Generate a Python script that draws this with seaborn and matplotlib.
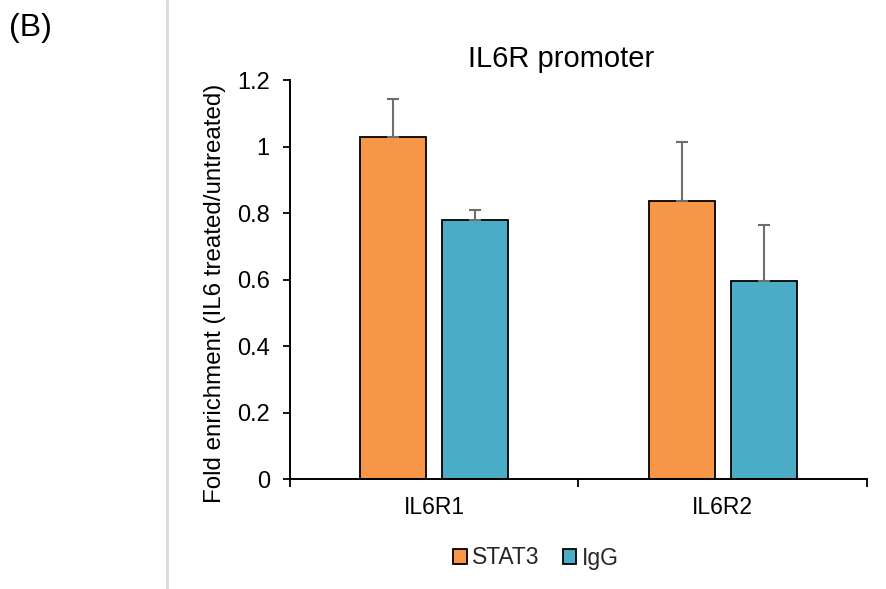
import matplotlib
matplotlib.use("Agg")
import matplotlib.pyplot as plt
from matplotlib.lines import Line2D
from matplotlib.ticker import FixedLocator, NullFormatter
import seaborn as sns
import pandas as pd

categories = ["IL6R1", "IL6R2"]
series = ["STAT3", "IgG"]
stat3_values = [1.03, 0.835]
stat3_errors = [0.113, 0.18]
igg_values = [0.78, 0.595]
igg_errors = [0.03, 0.168]
colors = {"STAT3": "#F79646", "IgG": "#4BACC6"}

df = pd.DataFrame({
    "target": categories * 2,
    "antibody": [series[0]] * 2 + [series[1]] * 2,
    "value": stat3_values + igg_values,
})
errors = {"STAT3": stat3_errors, "IgG": igg_errors}

sns.set_theme(style="white")
plt.rcParams["font.family"] = ["Liberation Sans", "DejaVu Sans"]

W, H = 887, 589
fig = plt.figure(figsize=(W / 100, H / 100), dpi=100)
ax = fig.add_axes([290 / W, 1 - 479 / H, (867 - 290) / W, (479 - 80) / H])

sns.barplot(data=df, x="target", y="value", hue="antibody", order=categories,
            hue_order=series, palette=colors, saturation=1, width=0.57, gap=0.2,
            edgecolor="black", linewidth=1.3, errorbar=None, ax=ax, legend=True)

for cont, name in zip(ax.containers, series):
    xs = [b.get_x() + b.get_width() / 2 for b in cont]
    ys = [b.get_height() for b in cont]
    err = errors[name]
    ax.errorbar(xs, ys, yerr=[[0] * len(err), err], fmt="none",
                ecolor="#6E6E6E", elinewidth=1.5, capsize=4.5, capthick=1.5, zorder=1)

ax.set_ylim(0, 1.2)
ax.set_xlim(-0.5, 1.5)
ax.set_yticks([0, 0.2, 0.4, 0.6, 0.8, 1.0, 1.2])
ax.set_yticklabels(["0", "0.2", "0.4", "0.6", "0.8", "1", "1.2"])
ax.tick_params(axis="y", which="major", left=True, length=5, width=1.3,
               color="black", labelsize=17, pad=9.5, labelcolor="black")
ax.tick_params(axis="x", which="major", bottom=False, length=0, labelsize=16.5, pad=12,
               labelcolor="black")
ax.xaxis.set_minor_locator(FixedLocator([-0.5, 0.5, 1.5]))
ax.xaxis.set_minor_formatter(NullFormatter())
ax.tick_params(axis="x", which="minor", bottom=True, length=6, width=1.3, color="black")

for s in ["top", "right"]:
    ax.spines[s].set_visible(False)
for s in ["left", "bottom"]:
    ax.spines[s].set_color("black")
    ax.spines[s].set_linewidth(1.4)

ax.set_xlabel("")
ax.set_ylabel("")
fig.text(215 / W, 1 - 293 / H, "Fold enrichment (IL6 treated/untreated)",
         rotation=90, ha="center", va="center", fontsize=17.4, color="black")

handles, labels = ax.get_legend_handles_labels()
ax.get_legend().remove()
fig.legend(handles, labels, loc="center", bbox_to_anchor=(536 / W, 1 - 558 / H),
           bbox_transform=fig.transFigure, ncol=2, frameon=False, fontsize=16.5,
           handlelength=0.6, handleheight=0.6, handletextpad=0.25, columnspacing=1.0)

fig.text(561 / W, 1 - 67 / H, "IL6R promoter", ha="center", va="baseline",
         fontsize=21, color="black")
fig.text(9 / W, 1 - 28 / H, "(B)", ha="left", va="center", fontsize=23, color="black")
fig.add_artist(Line2D([167 / W, 167 / W], [0, 1], color="#D9D9D9", lw=2,
                      transform=fig.transFigure))

fig.savefig("out.png", dpi=100)
